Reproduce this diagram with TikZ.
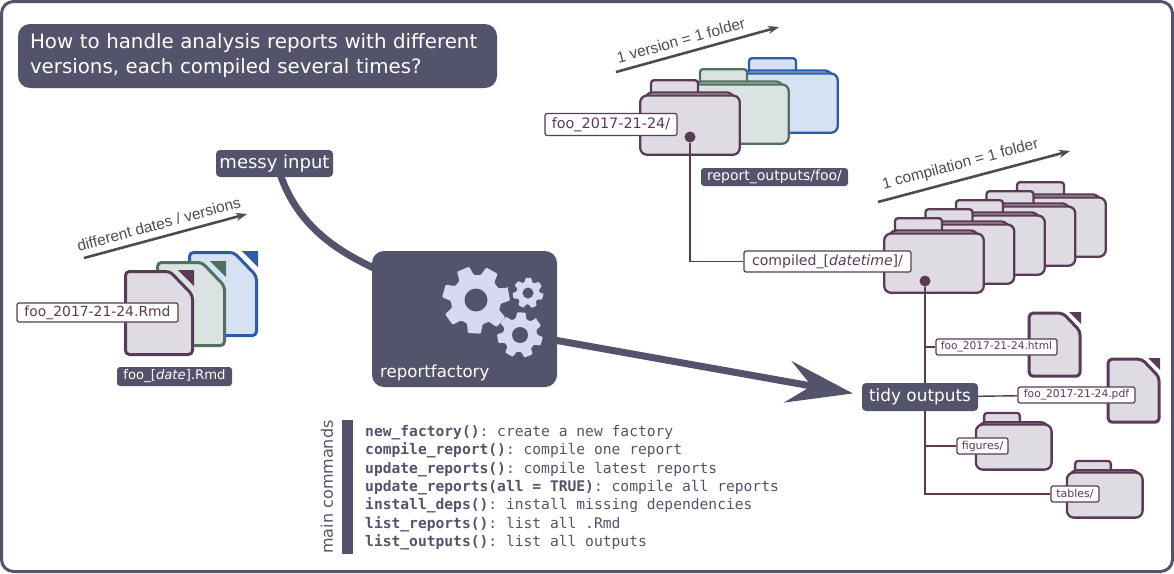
\documentclass[tikz,border=0pt]{standalone}
\usepackage{fontspec}
\setmainfont{DejaVu Sans}
\setmonofont{DejaVu Sans Mono}
\newfontfamily\notefont{Liberation Sans}
\usetikzlibrary{arrows.meta, backgrounds, calc}
\definecolor{slate}{HTML}{54536C}
\definecolor{plum}{HTML}{5A3A55}
\definecolor{plumfill}{HTML}{DFDBE2}
\definecolor{sage}{HTML}{52705F}
\definecolor{sagefill}{HTML}{DAE3E1}
\definecolor{azure}{HTML}{2A5CA8}
\definecolor{azurefill}{HTML}{D6E1F3}
\definecolor{gearfill}{HTML}{D8D8F2}
\definecolor{note}{HTML}{4D4D4D}
\newcommand{\fsize}[1]{\fontsize{#1}{#1}\selectfont}
\begin{document}
\begin{tikzpicture}[
    x=1pt, y=-1pt,
    darkbox/.style={fill=slate, text=white, rounded corners=#1, inner sep=0pt, align=center},
    darkbox/.default=3pt,
    namebox/.style={draw=plum, fill=white, text=plum, line width=1.2pt, rounded corners=2pt, inner sep=0pt, align=center},
    wire/.style={draw=plum, line width=1.4pt},
    notearrow/.style={draw=note, line width=2.6pt, -{Stealth[length=11pt,width=8pt]}},
    notetext/.style={text=note, above=3pt, sloped},
    fatline/.style={draw=slate, line width=7pt},
    enddot/.style={circle, fill=plum, inner sep=0pt, minimum size=11pt},
    pics/filecard/.style 2 args={code={
      \draw[draw=#1, fill=#2, line width=3pt, rounded corners=4pt, line join=round]
        (1.5,1.5) -- (46,1.5) -- (68.5,25) -- (68.5,84.5) -- (1.5,84.5) -- cycle;
      \fill[#1] (54,0) -- (70,0) -- (70,16) -- cycle;
    }},
    pics/folder/.style 2 args={code={
      \begin{scope}[draw=#1, fill=#2, line width=2.3pt, rounded corners=3pt]
        \filldraw (12,16) -- (12,1.2) -- (59,1.2) -- (59,16) -- cycle;
        \filldraw (3,22) -- (10,13.5) -- (91,13.5) -- (100,23) -- (100,40) -- (3,40) -- cycle;
        \filldraw[rounded corners=7pt] (1.2,16.5) rectangle (100.8,75.8);
      \end{scope}
    }},
    pics/gear/.style n args={3}{code={
      \fill[gearfill, rotate=#3, line join=round, rounded corners=1pt]
        (-11:#1) \foreach \k in {0,...,6} {
          -- ({\k*360/7-11}:#1) -- ({\k*360/7+11}:#1)
          -- ({\k*360/7+18}:0.74*#1) -- ({\k*360/7+360/7-18}:0.74*#1)
        } -- cycle;
      \fill[slate] (0,0) circle[radius=#2];
    }}
]
\begin{scope}[on background layer]
\draw[slate, fill=white, line width=3pt, rounded corners=12pt] (1.5,1.5) rectangle (1172.5,571.5);
\end{scope}
\node[darkbox=12pt, minimum width=479pt, minimum height=64pt, text width=455pt, align=left, font=\fsize{19.8}, execute at begin node={\baselineskip=25pt}] (question) at (257.5,56) {How to handle analysis reports with different\\versions, each compiled several times?};

\pic at (188,251) {filecard={azure}{azurefill}};
\pic at (156,261) {filecard={sage}{sagefill}};
\pic at (124,270) {filecard={plum}{plumfill}};
\node[namebox, minimum width=161pt, minimum height=19pt, font=\fsize{13.9}] (rmdname) at (97.5,312.5) {foo\_2017-21-24.Rmd};
\node[darkbox, minimum width=115pt, minimum height=19pt, font=\fsize{13.2}] (rmdgroup) at (174.5,376.5) {\raisebox{0pt}[10pt][4pt]{foo\_[\textit{date}].Rmd}};
\coordinate (datesstart) at (84,258);
\coordinate (datesend) at (247,214);
\draw[notearrow] (datesstart) -- node[notetext, pos=0.48, font=\notefont\fsize{15.5}] {different dates / versions} (datesend);

\pic at (737,57) {folder={azure}{azurefill}};
\pic at (688,68) {folder={sage}{sagefill}};
\pic at (639,79) {folder={plum}{plumfill}};
\node[namebox, minimum width=132pt, minimum height=22pt, font=\fsize{14.4}] (versionname) at (611,124.5) {foo\_2017-21-24/};
\node[darkbox, minimum width=147pt, minimum height=18pt, font=\fsize{14}] (outputgroup) at (774.5,177) {report\_outputs/foo/};
\node[enddot] (versiondot) at (690,137) {};
\coordinate (versionstart) at (616,72);
\coordinate (versionend) at (779,27);
\draw[notearrow] (versionstart) -- node[notetext, pos=0.42, font=\notefont\fsize{15.5}] {1 version = 1 folder} (versionend);

\foreach \i in {4,3,2,1,0}
  \pic at ({883+30.5*\i},{217-9*\i}) {folder={plum}{plumfill}};
\node[namebox, minimum width=167pt, minimum height=21pt, font=\fsize{14.1}] (compiledname) at (827.5,261.5) {compiled\_[\textit{datetime}]/};
\node[enddot] (compileddot) at (925,281) {};
\coordinate (compilestart) at (878,202);
\coordinate (compileend) at (1070,151);
\draw[notearrow] (compilestart) -- node[notetext, pos=0.45, font=\notefont\fsize{15.5}] {1 compilation = 1 folder} (compileend);
\draw[wire] (versiondot) |- (compiledname);

\pic[scale=0.76] at (1028,312) {filecard={plum}{plumfill}};
\pic[scale=0.76] at (1107,358) {filecard={plum}{plumfill}};
\pic[scale=0.76] at (975,412) {folder={plum}{plumfill}};
\pic[scale=0.76] at (1066,460) {folder={plum}{plumfill}};
\node[namebox, minimum width=121pt, minimum height=16pt, font=\fsize{10.6}] (htmlname) at (996.5,347) {foo\_2017-21-24.html};
\node[namebox, minimum width=117pt, minimum height=16pt, font=\fsize{10.7}] (pdfname) at (1076.5,395) {foo\_2017-21-24.pdf};
\node[namebox, minimum width=51pt, minimum height=16pt, font=\fsize{11}] (figuresname) at (982.5,446) {figures/};
\node[namebox, minimum width=48pt, minimum height=16pt, font=\fsize{11}] (tablesname) at (1075,494) {tables/};
\draw[wire] (compileddot) |- (htmlname);
\draw[wire] (compileddot) |- (figuresname);
\draw[wire] (compileddot) |- (tablesname);
\node[darkbox=4pt, minimum width=116pt, minimum height=28pt, font=\fsize{16.9}] (tidy) at (920,397) {tidy outputs};
\draw[wire] (tidy) -- (pdfname);

\node[darkbox=4pt, minimum width=117pt, minimum height=27pt, font=\fsize{18}] (messy) at (274.5,163.5) {messy input};
\node[darkbox=12pt, minimum width=185pt, minimum height=136pt] (factory) at (464.5,319) {};
\node[text=white, font=\fsize{16.6}, anchor=base west, inner sep=0pt] (factoryname) at (380,377) {reportfactory};
\pic at (476,300) {gear={34}{11.5}{10}};
\pic at (528,293) {gear={15.5}{5.5}{-15}};
\pic at (520,335) {gear={23}{8}{35}};
\begin{scope}[on background layer]
\draw[fatline] ([xshift=6pt,yshift=2pt]messy.south) .. controls (298,225) and (335,250) .. ([xshift=4pt,yshift=50pt]factory.west);
\draw[fatline, shorten >=9pt, -{Stealth[length=66pt,width=42pt,inset=24pt]}] ([xshift=-3pt,yshift=-21pt]factory.east) -- ([yshift=2pt]tidy.west);
\end{scope}

\node[fill=slate, minimum width=11pt, minimum height=134pt, inner sep=0pt] (cmdbar) at (347.5,487) {};
\node[rotate=90, text=slate, font=\fsize{16}, inner sep=0pt] (cmdtitle) at (327,487) {main commands};
\node[text=slate, anchor=north west, inner sep=0pt, align=left, font=\ttfamily\fontsize{14.62}{18.35}\selectfont] (cmds) at (365,425) {\textbf{new\_factory()}: create a new factory\\
\textbf{compile\_report()}: compile one report\\
\textbf{update\_reports()}: compile latest reports\\
\textbf{update\_reports(all = TRUE)}: compile all reports\\
\textbf{install\_deps()}: install missing dependencies\\
\textbf{list\_reports()}: list all .Rmd\\
\textbf{list\_outputs()}: list all outputs};
\useasboundingbox (0,0) rectangle (1174,573);
\end{tikzpicture}
\end{document}
